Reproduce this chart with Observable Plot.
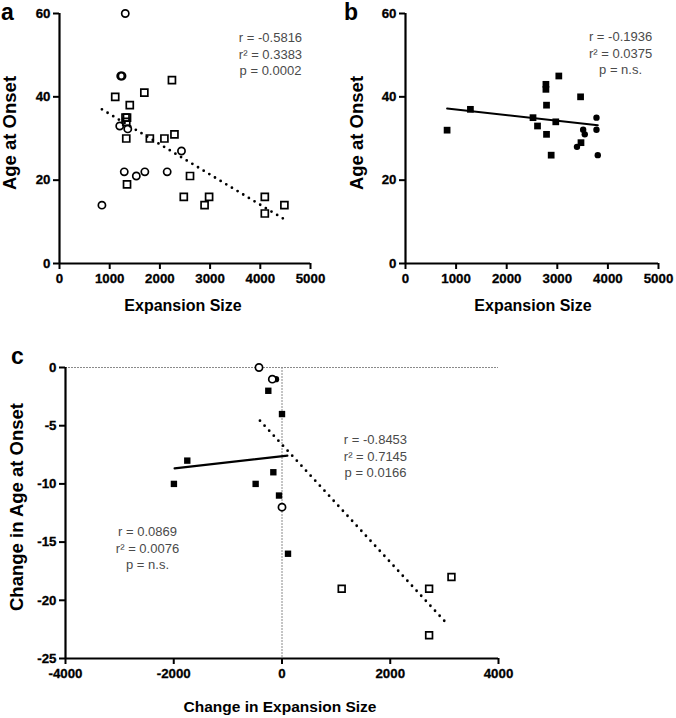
<!DOCTYPE html>
<html>
<head>
<meta charset="utf-8">
<script src="https://cdn.jsdelivr.net/npm/d3@7"></script>
<script src="https://cdn.jsdelivr.net/npm/@observablehq/plot@0.6"></script>
<style>
  html, body { margin: 0; padding: 0; background: #fff; }
  #fig { position: relative; width: 676px; height: 718px; overflow: hidden; font-family: 'Liberation Sans', Arial, sans-serif; }
  .pnl { position: absolute; }
  .letter { position: absolute; font-weight: bold; font-size: 23px; line-height: 1; color: #000; }
  .lab { position: absolute; font-weight: bold; white-space: nowrap; line-height: 1; color: #000; }
  #fig svg text { font-weight: 700 !important; font-size: 13.3px; font-family: 'Liberation Sans', Arial, sans-serif; }
  #fig svg g[aria-label$="tick label"] text { stroke: currentColor; stroke-width: 0.3px; }
  #fig svg g[aria-label="text"] text { font-weight: 400 !important; font-size: 13px; stroke: none; }
</style>
</head>
<body>
<div id="fig"></div>
<script>
// ---------- DATA ----------
// Panel a: Expansion size vs age at onset
const aOpenCircles = [[1310,60],[1220,45],[1245,45],[1200,33],[1360,32.3],[1290,22],[1530,21],[1700,22],[845,14],[2430,27],[2145,22]];
const aOpenSquares = [[1110,40],[1690,41],[2240,44],[1400,38],[1315,35],[1345,35],[1330,34],[1330,30],[1345,19],[1800,30],[2090,30],[2290,31],[2600,21],[2476,16],[2890,14],[2980,16],[4090,16],[4090,12],[4480,14]];
const aTrend = [[845,37],[4480,10.6]];
const aStats = ["r = -0.5816", "r² = 0.3383", "p = 0.0002"];

// Panel b
const bFilledSquares = [[822,32],[1283,37],[2520,35],[2609,33],[2775,43],[2775,41.8],[2787,38],[2787,31],[2879,26],[2970,34],[3030,45],[3460,40],[3468,29]];
const bFilledCircles = [[3389,28],[3511,32.1],[3543,31],[3774,35],[3774,32.1],[3800,26]];
const bTrend = [[822,37.2],[3800,33.2]];
const bStats = ["r = -0.1936", "r² = 0.0375", "p = n.s."];

// Panel c: change in expansion size vs change in age at onset
const cFilledSquares = [[-253,-2],[0,-4],[-1750,-8],[-1997,-10],[-487,-10],[-160,-9],[-55,-11],[111,-16]];
const cFilledCircles = [[-111,-1]];
const cOpenCircles = [[-425,0],[-179,-1],[0,-12]];
const cOpenSquares = [[1103,-19],[2718,-19],[2718,-23],[3131,-18]];
const cTrendSolid = [[-1984,-8.66],[99,-7.57]];
const cTrendDotted = [[-407,-4.57],[3057,-22.06]];
const cStatsRight = ["r = -0.8453", "r² = 0.7145", "p = 0.0166"];
const cStatsLeft = ["r = 0.0869", "r² = 0.0076", "p = n.s."];

// Ticks and labels
const xTicksAB = [0,1000,2000,3000,4000,5000];
const yTicksAB = [0,20,40,60];
const xTicksC = [-4000,-2000,0,2000,4000];
const yTicksC = [0,-5,-10,-15,-20,-25];
const xLabelAB = "Expansion Size";
const yLabelAB = "Age at Onset";
const xLabelC = "Change in Expansion Size";
const yLabelC = "Change in Age at Onset";

// ---------- DRAWING ----------
const FONT = "'Liberation Sans', Arial, sans-serif";
const px = d => d[0], py = d => d[1];
const fmt = d => String(d);
const statColor = "#4a4a4a";

function axes(xTicks, yTicks, x0, y0) {
  return [
    Plot.axisX({ticks: xTicks, tickFormat: fmt, tickSize: 6, tickPadding: 4, strokeWidth: 2, label: null}),
    Plot.axisY({ticks: yTicks, tickFormat: fmt, tickSize: 6, tickPadding: 3, strokeWidth: 2, label: null}),
    Plot.ruleX([x0], {strokeWidth: 2.2}),
    Plot.ruleY([y0], {strokeWidth: 2.2})
  ];
}
function stats(lines, x, y) {
  return Plot.text([{x, y, t: lines.join("\n")}], {x: "x", y: "y", text: "t", fontSize: 13, fill: statColor, lineHeight: 1.27, textAnchor: "middle", lineAnchor: "middle"});
}
const baseStyle = {fontFamily: FONT, fontSize: "13px", background: "transparent", overflow: "visible", color: "#000"};

const plotA = Plot.plot({
  width: 340, height: 320, marginLeft: 59, marginRight: 30, marginTop: 13, marginBottom: 57,
  x: {domain: [0, 5000]}, y: {domain: [0, 60]},
  style: baseStyle,
  marks: [
    ...axes(xTicksAB, yTicksAB, 0, 0),
    Plot.line(aTrend, {x: px, y: py, strokeWidth: 2.8, strokeDasharray: "0,6.6", strokeLinecap: "round"}),
    Plot.dot(aOpenCircles, {x: px, y: py, r: 3.6, stroke: "black", strokeWidth: 1.7, fill: "none"}),
    Plot.dot(aOpenSquares, {x: px, y: py, r: 3.95, symbol: "square", stroke: "black", strokeWidth: 1.7, fill: "none"}),
    stats(aStats, 4203, 50.4)
  ]
});

const plotB = Plot.plot({
  width: 336, height: 320, marginLeft: 65, marginRight: 18, marginTop: 13, marginBottom: 57,
  x: {domain: [0, 5000]}, y: {domain: [0, 60]},
  style: baseStyle,
  marks: [
    ...axes(xTicksAB, yTicksAB, 0, 0),
    Plot.line(bTrend, {x: px, y: py, strokeWidth: 2}),
    Plot.dot(bFilledSquares, {x: px, y: py, r: 3.8, symbol: "square", fill: "black"}),
    Plot.dot(bFilledCircles, {x: px, y: py, r: 3.2, fill: "black"}),
    stats(bStats, 4250, 50.6)
  ]
});

const plotC = Plot.plot({
  width: 676, height: 398, marginLeft: 65, marginRight: 178, marginTop: 47, marginBottom: 60,
  x: {domain: [-4000, 4000]}, y: {domain: [-25, 0]},
  style: baseStyle,
  marks: [
    Plot.ruleY([0], {stroke: "#8a8a8a", strokeWidth: 1, strokeDasharray: "2,1"}),
    Plot.ruleX([0], {stroke: "#8a8a8a", strokeWidth: 1, strokeDasharray: "2,1"}),
    ...axes(xTicksC, yTicksC, -4000, -25),
    Plot.line(cTrendSolid, {x: px, y: py, strokeWidth: 2.2}),
    Plot.line(cTrendDotted, {x: px, y: py, strokeWidth: 2.8, strokeDasharray: "0,6.8", strokeLinecap: "round"}),
    Plot.dot(cFilledSquares, {x: px, y: py, r: 3.6, symbol: "square", fill: "black"}),
    Plot.dot(cFilledCircles, {x: px, y: py, r: 3.2, fill: "black"}),
    Plot.dot(cOpenCircles, {x: px, y: py, r: 3.6, stroke: "black", strokeWidth: 1.7, fill: "white"}),
    Plot.dot(cOpenSquares, {x: px, y: py, r: 3.8, symbol: "square", stroke: "black", strokeWidth: 1.7, fill: "white"}),
    stats(cStatsRight, 1727, -7.56),
    stats(cStatsLeft, -2485, -15.46)
  ]
});

const fig = document.getElementById("fig");
function place(node, left, top) {
  const d = document.createElement("div");
  d.className = "pnl";
  d.style.left = left + "px";
  d.style.top = top + "px";
  d.appendChild(node);
  fig.appendChild(d);
}
place(plotA, 0, 0);
place(plotB, 340, 0);
place(plotC, 0, 320);

function letter(t, left, top) {
  const d = document.createElement("div");
  d.className = "letter";
  d.textContent = t;
  d.style.left = left + "px";
  d.style.top = top + "px";
  fig.appendChild(d);
}
letter("a", 1, 1);
letter("b", 344, 1);
letter("c", 11, 345);

function label(t, cx, cy, size, rotate) {
  const d = document.createElement("div");
  d.className = "lab";
  d.textContent = t;
  d.style.fontSize = size + "px";
  d.style.left = cx + "px";
  d.style.top = cy + "px";
  d.style.transform = "translate(-50%,-50%)" + (rotate ? " rotate(-90deg)" : "");
  fig.appendChild(d);
}
label(xLabelAB, 183, 306, 16, false);
label(xLabelAB, 533, 306, 16, false);
label(xLabelC, 280, 707, 15.5, false);
label(yLabelAB, 10, 133, 18.5, true);
label(yLabelAB, 357, 133, 18.5, true);
label(yLabelC, 17, 507, 18.5, true);
</script>
</body>
</html>
